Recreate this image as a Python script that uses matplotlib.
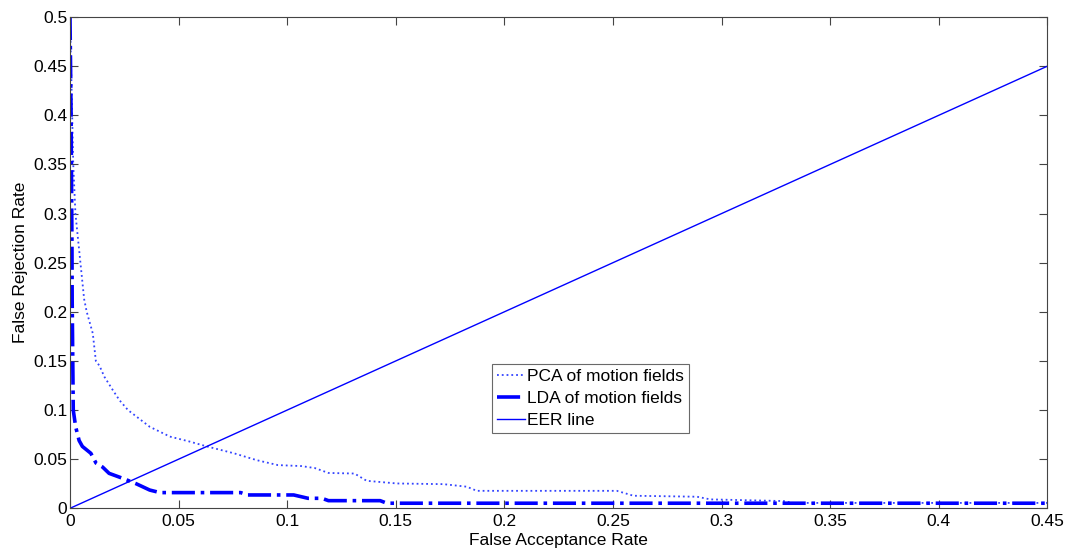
import numpy as np
import matplotlib
matplotlib.use("Agg")
import matplotlib.pyplot as plt
import matplotlib.ticker as mticker

plt.rcParams['font.family'] = ['Liberation Sans', 'DejaVu Sans']

# PCA of motion fields (FAR, FRR)
pca_far = [0.0, 0.0005, 0.001, 0.0015, 0.0025, 0.0048, 0.0065, 0.0077, 0.0105, 0.0119,
           0.0136, 0.0158, 0.0198, 0.0228, 0.0267, 0.0367, 0.046, 0.055, 0.063, 0.0755,
           0.086, 0.0957, 0.1065, 0.1127, 0.119, 0.131, 0.1366, 0.1505, 0.172, 0.1827,
           0.1873, 0.2518, 0.2594, 0.2887, 0.2948, 0.3285, 0.333, 0.45]
pca_frr = [0.5, 0.45, 0.4, 0.35, 0.3, 0.25, 0.213, 0.2, 0.178, 0.15,
           0.145, 0.134, 0.12, 0.11, 0.1, 0.083, 0.073, 0.068, 0.063, 0.056,
           0.049, 0.044, 0.043, 0.041, 0.036, 0.0354, 0.028, 0.0253, 0.0246, 0.022,
           0.0178, 0.0178, 0.0128, 0.0118, 0.0091, 0.0074, 0.0055, 0.0055]

# LDA of motion fields (FAR, FRR)
lda_far = [0.0, 0.0005, 0.0009, 0.001, 0.0015, 0.0026, 0.0042, 0.0057, 0.0096, 0.012,
           0.015, 0.018, 0.0243, 0.0305, 0.0367, 0.0414, 0.0786, 0.0817, 0.103, 0.1096,
           0.116, 0.119, 0.1428, 0.1459, 0.45]
lda_frr = [0.5, 0.4, 0.27, 0.213, 0.1, 0.083, 0.069, 0.063, 0.056, 0.046,
           0.042, 0.0356, 0.0305, 0.025, 0.0186, 0.016, 0.016, 0.0136, 0.0136, 0.0102,
           0.0102, 0.0078, 0.0078, 0.0052, 0.0052]

# EER line
eer_x = [0.0, 0.45]
eer_y = [0.0, 0.45]

xticks = np.arange(0, 0.451, 0.05)
yticks = np.arange(0, 0.501, 0.05)

fig = plt.figure(figsize=(10.67, 5.48), dpi=100)
ax = fig.add_axes([0.0656, 0.0724, 0.916, 0.8965])

ax.plot(pca_far, pca_frr, ':', color='#3344ff', lw=1.3, label='PCA of motion fields')
ax.plot(lda_far, lda_frr, '-.', color='#0000ff', lw=2.6, label='LDA of motion fields')
ax.plot(eer_x, eer_y, '-', color='#0000ff', lw=1.0, label='EER line')

ax.set_xlim(0, 0.45)
ax.set_ylim(0, 0.5)
ax.set_xticks(xticks)
ax.set_yticks(yticks)
fmt = mticker.FuncFormatter(lambda v, p: ('%g' % round(v, 3)))
ax.xaxis.set_major_formatter(fmt)
ax.yaxis.set_major_formatter(fmt)
ax.tick_params(direction='in', length=6, width=0.8, color='#444444',
               top=True, right=True, labelsize=12.5)
ax.tick_params(axis='y', pad=2)
ax.tick_params(axis='x', pad=4)
for s in ax.spines.values():
    s.set_color('#444444')
    s.set_linewidth(0.8)

ax.set_xlabel('False Acceptance Rate', fontsize=12.5, labelpad=3)
ax.set_ylabel('False Rejection Rate', fontsize=12.5, labelpad=4)

leg = ax.legend(loc='lower left', bbox_to_anchor=(0.4317, 0.1527), fontsize=12.5,
                frameon=True, fancybox=False, handlelength=1.6, handletextpad=0.1,
                borderpad=0.3, labelspacing=0.4, borderaxespad=0)
leg.get_frame().set_edgecolor('#444444')
leg.get_frame().set_linewidth(0.8)

fig.savefig('out.png', dpi=100)
